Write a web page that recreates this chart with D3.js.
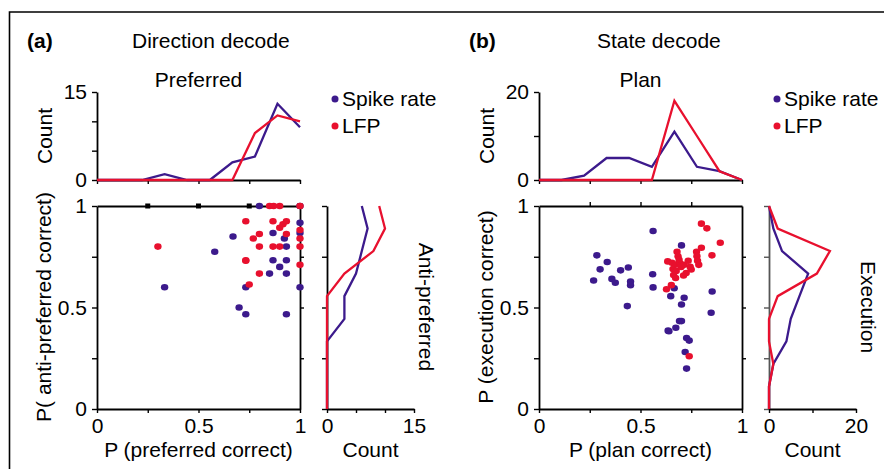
<!DOCTYPE html>
<html>
<head>
<meta charset="utf-8">
<script src="https://cdn.jsdelivr.net/npm/d3@7"></script>
<style>
  body { margin: 0; background: #fff; }
  svg text { font-family: 'Liberation Sans', Arial, sans-serif; font-size: 21px; fill: #000; }
</style>
</head>
<body>
<svg id="chart" width="884" height="469"></svg>
<script>
// histogram bin centres (probability correct)
const bins = [0, 0.111, 0.222, 0.333, 0.444, 0.556, 0.667, 0.778, 0.889, 1];

// (a) direction decode histograms
const prefSpike = [0, 0, 0, 1, 0, 0, 3, 4, 13, 9];
const prefLfp   = [0, 0, 0, 0, 0, 0, 0, 8, 11, 10];
const antiSpike = [0, 0, 0, 0, 3, 3, 5, 6, 7, 6];
const antiLfp   = [0, 0, 0, 0, 0, 0, 3, 8, 10, 9];

// (b) state decode histograms
const planSpike = [0, 0, 1, 5, 5, 3, 11, 3, 2, 0];
const planLfp   = [0, 0, 0, 0, 0, 0, 18, 10, 2, 0];
const execSpike = [0, 0, 1, 4, 5, 7, 9, 3, 1, 0];
const execLfp   = [0, 0, 1, 0, 0, 2, 11, 14, 2, 0];

// (a) scatter: [P preferred, P anti-preferred]
const dirSpikePts = [
  [0.8, 1.0], [0.67, 0.85], [0.867, 0.867], [0.923, 0.84], [0.58, 0.775],
  [0.933, 0.8], [0.867, 0.733], [0.933, 0.733], [0.9, 0.7], [0.85, 0.667],
  [0.933, 0.667], [1, 0.917], [1, 0.867], [1, 0.6], [0.333, 0.6],
  [0.733, 0.6], [0.7, 0.5], [0.733, 0.467], [0.933, 0.467], [1, 1]
];
const dirLfpPts = [
  [0.3, 0.8], [0.733, 0.925], [0.733, 0.733], [0.75, 0.613], [0.77, 0.84],
  [0.8, 0.862], [0.8, 0.8], [0.8, 0.667], [0.85, 1], [0.87, 1],
  [0.9, 1], [0.867, 0.925], [0.867, 0.8], [0.9, 0.8], [0.9, 0.893],
  [0.916, 0.91], [0.933, 0.925], [0.933, 0.862], [1, 1], [1, 0.882],
  [1, 0.84], [1, 0.8], [1, 0.71], [0.733, 0.73]
];

// (b) scatter: [P plan, P execution]
const stateSpikePts = [
  [0.285, 0.757], [0.336, 0.724], [0.301, 0.688], [0.269, 0.633], [0.359, 0.641],
  [0.376, 0.622], [0.402, 0.683], [0.44, 0.697], [0.451, 0.628], [0.451, 0.61],
  [0.435, 0.507], [0.562, 0.877], [0.56, 0.664], [0.562, 0.599], [0.702, 0.806],
  [0.666, 0.595], [0.649, 0.556], [0.715, 0.548], [0.702, 0.515], [0.692, 0.433],
  [0.702, 0.433], [0.674, 0.4], [0.636, 0.386], [0.727, 0.35], [0.74, 0.337],
  [0.72, 0.281], [0.727, 0.199], [0.853, 0.579], [0.848, 0.474], [0.64, 0.383]
];
const stateLfpPts = [
  [0.8, 0.913], [0.827, 0.89], [0.893, 0.819], [0.852, 0.757], [0.8, 0.794],
  [0.776, 0.775], [0.778, 0.753], [0.781, 0.73], [0.787, 0.71], [0.75, 0.687],
  [0.725, 0.67], [0.712, 0.658], [0.68, 0.775], [0.685, 0.752], [0.634, 0.727],
  [0.655, 0.72], [0.675, 0.712], [0.695, 0.718], [0.715, 0.71], [0.735, 0.73],
  [0.66, 0.69], [0.676, 0.68], [0.663, 0.66], [0.673, 0.645], [0.652, 0.61],
  [0.628, 0.59], [0.74, 0.26], [0.7, 0.7], [0.745, 0.7], [0.69, 0.735]
];

const purple = "#3c1a8c", red = "#e8102e";
const svg = d3.select("#chart");

// outer frame (top + left only)
svg.append("path").attr("d", "M9.5,469V12H884")
  .attr("fill", "none").attr("stroke", "#000").attr("stroke-width", 1.6);

function styleAxis(g, col) {
  g.selectAll(".domain").attr("stroke", col || "#000").attr("stroke-width", 1.8);
  g.selectAll(".tick line").attr("stroke", col || "#000").attr("stroke-width", 1.4);
  g.selectAll(".tick text").style("font-size", "21px").attr("fill", "#000");
}

function panel(p) {
  const x = d3.scaleLinear().domain([0, 1]).range([p.x0, p.x0 + 203]);
  const y = d3.scaleLinear().domain([0, 1]).range([409, 206]);
  const yTop = d3.scaleLinear().domain([0, p.topMax]).range([180, 92]);
  const xR = d3.scaleLinear().domain([0, p.rMax]).range([p.x0 + 230, p.x0 + 317]);
  const q = [0, 0.25, 0.5, 0.75, 1];
  const pf = d => (d === 0 || d === 1) ? d3.format("d")(d) : d === 0.5 ? "0.5" : "";

  // panel letter and titles
  svg.append("text").attr("x", p.x0 - 70).attr("y", 48).style("font-weight", "bold").text(p.letter);
  svg.append("text").attr("x", p.titleX).attr("y", 48).text(p.title);
  svg.append("text").attr("x", x(0.5)).attr("y", 87).attr("text-anchor", "middle").text(p.topTitle);

  // top histogram
  const gt = svg.append("g");
  gt.append("g").attr("transform", "translate(" + p.x0 + ",0)")
    .call(d3.axisLeft(yTop).tickValues(p.topTicks).tickSize(5).tickSizeOuter(0).tickPadding(5)
      .tickFormat(d => (d === 0 || d === p.topMax) ? d : ""))
    .call(styleAxis);
  gt.append("g").attr("transform", "translate(0,180)")
    .call(d3.axisBottom(x).tickValues(q).tickSize(4).tickSizeOuter(0).tickFormat(""))
    .call(styleAxis);
  svg.append("text").attr("transform", "translate(" + (p.x0 - 45) + ",136) rotate(-90)")
    .attr("text-anchor", "middle").text("Count");

  const lineTop = d3.line().x((d, i) => x(bins[i])).y(d => yTop(d));
  [[p.topSpike, purple], [p.topLfp, red]].forEach(([v, c]) => {
    gt.append("path").attr("d", lineTop(v)).attr("fill", "none")
      .attr("stroke", c).attr("stroke-width", 2.3).attr("stroke-linejoin", "miter");
  });

  // legend
  const lg = svg.append("g").attr("transform", "translate(" + (p.x0 + 238) + ",0)");
  [["Spike rate", purple, 99], ["LFP", red, 126]].forEach(([t, c, yy]) => {
    lg.append("circle").attr("cx", 0).attr("cy", yy).attr("r", 3.5).attr("fill", c);
    lg.append("text").attr("x", 7).attr("y", yy + 7).text(t);
  });

  // scatter
  const gs = svg.append("g");
  gs.append("g").attr("transform", "translate(" + p.x0 + ",0)")
    .call(d3.axisLeft(y).tickValues(q).tickSize(5).tickSizeOuter(0).tickPadding(5).tickFormat(pf))
    .call(styleAxis);
  gs.append("g").attr("transform", "translate(0,409)")
    .call(d3.axisBottom(x).tickValues(q).tickSize(4).tickSizeOuter(0).tickPadding(5).tickFormat(pf))
    .call(styleAxis);
  gs.append("g").attr("transform", "translate(0,206)")
    .call(d3.axisTop(x).tickValues([0.25, 0.5, 0.75]).tickSize(p.squares ? 0 : 4).tickSizeOuter(0).tickFormat(""))
    .call(styleAxis);
  gs.append("g").attr("transform", "translate(" + x(1) + ",0)")
    .call(d3.axisRight(y).tickValues([0.25, 0.5, 0.75]).tickSize(4).tickSizeOuter(0).tickFormat(""))
    .call(styleAxis);
  if (p.squares) {
    gs.selectAll(".sq").data([0.25, 0.5, 0.75, 1]).enter().append("rect")
      .attr("x", d => x(d) - 2.5).attr("y", y(1) - 2.5).attr("width", 5).attr("height", 5).attr("fill", "#000");
  }
  [[p.spikePts, purple], [p.lfpPts, red]].forEach(([pts, c]) => {
    gs.append("g").selectAll("ellipse").data(pts).enter().append("ellipse")
      .attr("cx", d => x(d[0])).attr("cy", d => y(d[1])).attr("rx", 3.7).attr("ry", 3.3).attr("fill", c);
  });
  svg.append("text").attr("transform", "translate(" + (p.x0 - 46) + ",307) rotate(-90)")
    .attr("text-anchor", "middle").text(p.yLabel);
  svg.append("text").attr("x", x(0.5)).attr("y", 457).attr("text-anchor", "middle").text(p.xLabel);

  // right histogram
  const gr = svg.append("g");
  gr.append("g").attr("transform", "translate(" + xR(0) + ",0)")
    .call(d3.axisLeft(y).tickValues(q).tickSize(5).tickSizeOuter(0).tickFormat(""))
    .call(g => styleAxis(g, p.rAxisCol));
  gr.append("g").attr("transform", "translate(0,409)")
    .call(d3.axisBottom(xR).tickValues(p.rTicks).tickSize(4).tickSizeOuter(0).tickPadding(5)
      .tickFormat(d => (d === 0 || d === p.rMax) ? d : ""))
    .call(styleAxis);
  svg.append("text").attr("x", (xR(0) + xR(p.rMax)) / 2).attr("y", 457).attr("text-anchor", "middle").text("Count");
  svg.append("text").attr("transform", "translate(" + (p.x0 + 322) + ",307) rotate(90)")
    .attr("text-anchor", "middle").text(p.rTitle);

  const lineR = d3.line().x(d => xR(d)).y((d, i) => y(bins[i]));
  [[p.rSpike, purple], [p.rLfp, red]].forEach(([v, c]) => {
    gr.append("path").attr("d", lineR(v)).attr("fill", "none")
      .attr("stroke", c).attr("stroke-width", 2.3);
  });
}

panel({
  x0: 97, letter: "(a)", title: "Direction decode", titleX: 132, topTitle: "Preferred",
  topMax: 15, topTicks: [0, 5, 10, 15], topSpike: prefSpike, topLfp: prefLfp,
  rMax: 15, rTicks: [0, 5, 10, 15], rSpike: antiSpike, rLfp: antiLfp, rTitle: "Anti-preferred",
  rAxisCol: "#000", squares: true,
  spikePts: dirSpikePts, lfpPts: dirLfpPts,
  yLabel: "P( anti-preferred correct)", xLabel: "P (preferred correct)"
});

panel({
  x0: 539, letter: "(b)", title: "State decode", titleX: 597, topTitle: "Plan",
  topMax: 20, topTicks: [0, 10, 20], topSpike: planSpike, topLfp: planLfp,
  rMax: 20, rTicks: [0, 10, 20], rSpike: execSpike, rLfp: execLfp, rTitle: "Execution",
  rAxisCol: "#555", squares: false,
  spikePts: stateSpikePts, lfpPts: stateLfpPts,
  yLabel: "P (execution correct)", xLabel: "P (plan correct)"
});
</script>
</body>
</html>
